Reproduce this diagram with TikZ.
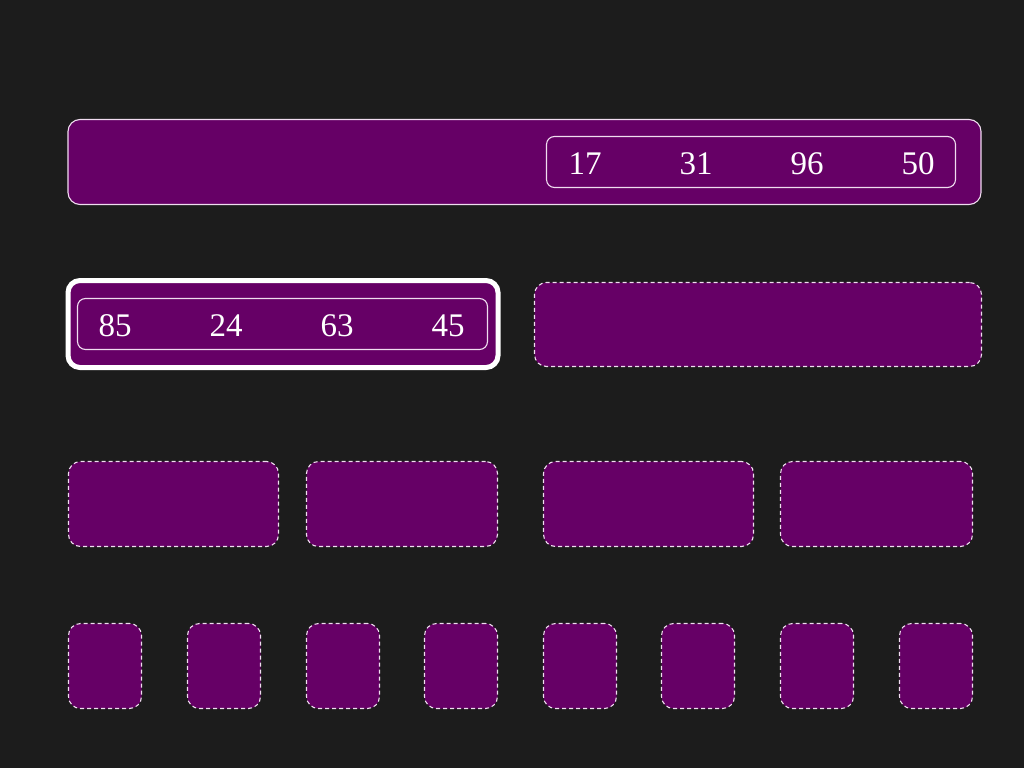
\documentclass[tikz,border=0pt]{standalone}
\usepackage{fontspec}
\setmainfont{Liberation Serif}
\definecolor{bg}{HTML}{1C1C1C}
\definecolor{cell}{HTML}{660066}
\definecolor{edge}{HTML}{F0DDF0}
\begin{document}
\begin{tikzpicture}[x=1pt,y=-1pt,
  box/.style={draw=edge,fill=cell,line width=1.1pt,rounded corners=12pt,anchor=north west,inner sep=0pt,outer sep=0pt},
  dbox/.style={box,dash pattern=on 4pt off 3pt},
  hbox/.style={box,draw=white,line width=5pt},
  ibox/.style={draw=edge,line width=1.1pt,rounded corners=8pt,anchor=north west,inner sep=0pt,outer sep=0pt},
  num/.style={text=white,font=\fontsize{33}{33}\selectfont,inner sep=0pt}]
\fill[bg] (0,0) rectangle (1024,768);
\useasboundingbox (0,0) rectangle (1024,768);
% row 1
\node[box,minimum width=913pt,minimum height=85pt] (top) at (68,119.5) {};
\node[ibox,minimum width=409pt,minimum height=51pt] (topin) at (546.5,136.5) {};
\node[num] (n17) at (585,163.5) {17};
\node[num] (n31) at (696,163.5) {31};
\node[num] (n96) at (807,163.5) {96};
\node[num] (n50) at (918,163.5) {50};
% row 2
\node[hbox,minimum width=430pt,minimum height=87pt] (left) at (68,280.5) {};
\node[ibox,minimum width=410pt,minimum height=51pt] (leftin) at (77.5,298.5) {};
\node[num] (n85) at (115,325.5) {85};
\node[num] (n24) at (226,325.5) {24};
\node[num] (n63) at (337,325.5) {63};
\node[num] (n45) at (448,325.5) {45};
\node[dbox,minimum width=447pt,minimum height=84pt] (right) at (534.5,282.5) {};
% row 3
\node[dbox,minimum width=210pt,minimum height=85pt] (q1) at (68.5,461.5) {};
\node[dbox,minimum width=191pt,minimum height=85pt] (q2) at (306.5,461.5) {};
\node[dbox,minimum width=210pt,minimum height=85pt] (q3) at (543.5,461.5) {};
\node[dbox,minimum width=192pt,minimum height=85pt] (q4) at (780.5,461.5) {};
% row 4
\foreach \x [count=\i] in {68.5,187.5,306.5,424.5,543.5,661.5,780.5,899.5}
  \node[dbox,minimum width=73pt,minimum height=85pt] (s\i) at (\x,623.5) {};
\end{tikzpicture}
\end{document}
